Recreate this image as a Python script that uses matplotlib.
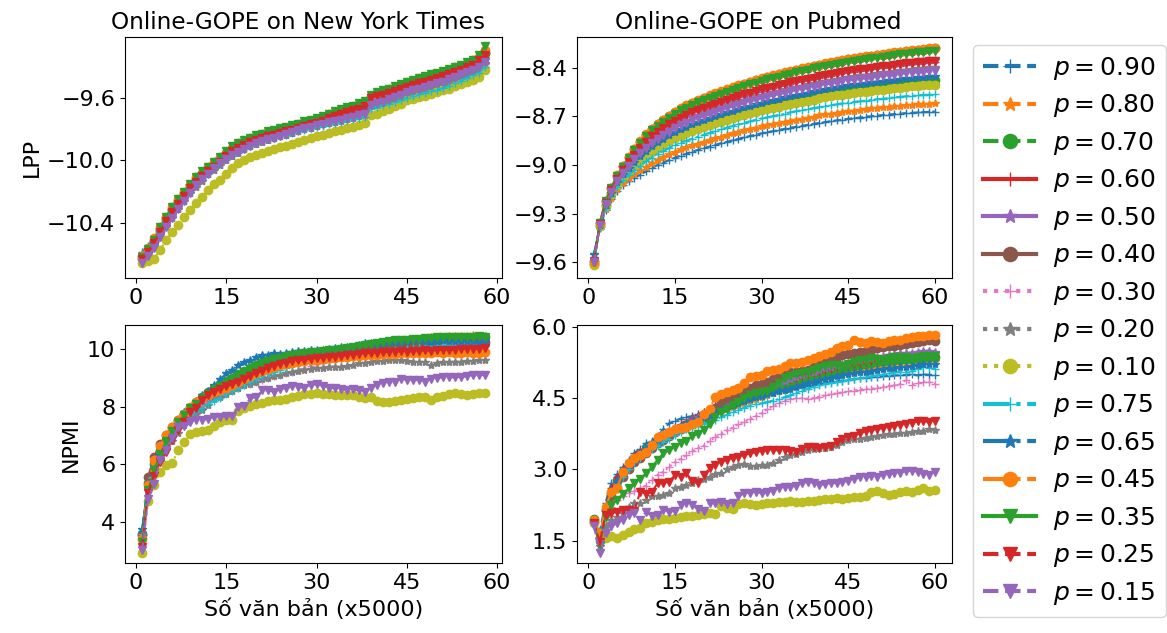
import matplotlib
matplotlib.use("Agg")
import matplotlib.pyplot as plt

# x axis: number of documents (in units of 5000)
x_nyt = list(range(1, 59))
x_pub = list(range(1, 61))

p_values = ["0.90", "0.80", "0.70", "0.60", "0.50", "0.40", "0.30", "0.20",
            "0.10", "0.75", "0.65", "0.45", "0.35", "0.25", "0.15"]

# ---------------- LPP on New York Times ----------------
nyt_lpp_090 = [-10.59, -10.55, -10.50, -10.45, -10.39, -10.34, -10.29, -10.24, -10.19, -10.15,
               -10.11, -10.08, -10.045, -10.015, -9.985, -9.96, -9.94, -9.92, -9.90, -9.885,
               -9.873, -9.861, -9.85, -9.84, -9.83, -9.82, -9.81, -9.80, -9.79, -9.78,
               -9.772, -9.764, -9.756, -9.748, -9.74, -9.732, -9.724, -9.715, -9.665, -9.655,
               -9.645, -9.635, -9.62, -9.61, -9.595, -9.585, -9.575, -9.565, -9.555, -9.545,
               -9.535, -9.52, -9.505, -9.49, -9.465, -9.45, -9.435, -9.40]
nyt_lpp_080 = [-10.60, -10.56, -10.50, -10.44, -10.37, -10.31, -10.26, -10.21, -10.16, -10.12,
               -10.08, -10.05, -10.02, -9.99, -9.95, -9.92, -9.90, -9.88, -9.865, -9.85,
               -9.84, -9.825, -9.815, -9.805, -9.795, -9.785, -9.775, -9.76, -9.75, -9.74,
               -9.725, -9.71, -9.695, -9.68, -9.67, -9.66, -9.645, -9.63, -9.59, -9.575,
               -9.56, -9.55, -9.535, -9.52, -9.505, -9.495, -9.48, -9.47, -9.46, -9.45,
               -9.44, -9.425, -9.41, -9.40, -9.38, -9.365, -9.34, -9.30]
nyt_lpp_070 = [-10.62, -10.57, -10.52, -10.44, -10.37, -10.31, -10.26, -10.21, -10.16, -10.12,
               -10.08, -10.05, -10.02, -9.99, -9.955, -9.925, -9.90, -9.88, -9.865, -9.85,
               -9.84, -9.83, -9.82, -9.81, -9.80, -9.79, -9.78, -9.765, -9.755, -9.745,
               -9.73, -9.715, -9.70, -9.685, -9.675, -9.665, -9.65, -9.635, -9.595, -9.58,
               -9.565, -9.555, -9.54, -9.525, -9.51, -9.50, -9.49, -9.48, -9.47, -9.46,
               -9.45, -9.435, -9.42, -9.41, -9.39, -9.375, -9.35, -9.31]
nyt_lpp_060 = [-10.62, -10.58, -10.53, -10.46, -10.40, -10.34, -10.29, -10.24, -10.19, -10.15,
               -10.11, -10.08, -10.05, -10.02, -9.98, -9.95, -9.93, -9.91, -9.895, -9.88,
               -9.865, -9.85, -9.84, -9.83, -9.82, -9.81, -9.80, -9.785, -9.775, -9.765,
               -9.75, -9.735, -9.72, -9.705, -9.695, -9.685, -9.675, -9.66, -9.61, -9.60,
               -9.59, -9.58, -9.565, -9.55, -9.535, -9.525, -9.515, -9.505, -9.495, -9.485,
               -9.47, -9.46, -9.445, -9.43, -9.41, -9.40, -9.375, -9.34]
nyt_lpp_050 = [-10.65, -10.61, -10.55, -10.49, -10.42, -10.36, -10.31, -10.26, -10.21, -10.17,
               -10.13, -10.09, -10.06, -10.03, -10.00, -9.975, -9.95, -9.93, -9.91, -9.895,
               -9.88, -9.87, -9.858, -9.846, -9.835, -9.823, -9.812, -9.80, -9.79, -9.78,
               -9.77, -9.76, -9.752, -9.744, -9.735, -9.725, -9.715, -9.705, -9.65, -9.64,
               -9.63, -9.615, -9.60, -9.585, -9.57, -9.56, -9.55, -9.535, -9.52, -9.51,
               -9.50, -9.485, -9.47, -9.455, -9.44, -9.425, -9.405, -9.375]
nyt_lpp_040 = [-10.63, -10.58, -10.52, -10.45, -10.38, -10.32, -10.27, -10.22, -10.17, -10.13,
               -10.09, -10.06, -10.03, -10.00, -9.96, -9.93, -9.91, -9.89, -9.875, -9.86,
               -9.85, -9.835, -9.825, -9.815, -9.805, -9.795, -9.785, -9.77, -9.76, -9.75,
               -9.735, -9.72, -9.705, -9.69, -9.68, -9.67, -9.655, -9.64, -9.60, -9.585,
               -9.57, -9.56, -9.545, -9.53, -9.515, -9.505, -9.495, -9.485, -9.475, -9.465,
               -9.455, -9.44, -9.425, -9.415, -9.395, -9.38, -9.355, -9.31]
nyt_lpp_030 = [-10.64, -10.60, -10.54, -10.48, -10.42, -10.36, -10.30, -10.25, -10.20, -10.16,
               -10.12, -10.08, -10.05, -10.02, -9.99, -9.96, -9.94, -9.92, -9.90, -9.885,
               -9.873, -9.861, -9.85, -9.838, -9.826, -9.815, -9.803, -9.792, -9.782, -9.772,
               -9.762, -9.753, -9.745, -9.736, -9.727, -9.717, -9.707, -9.697, -9.645, -9.635,
               -9.625, -9.612, -9.597, -9.583, -9.568, -9.555, -9.545, -9.535, -9.52, -9.51,
               -9.50, -9.487, -9.472, -9.458, -9.443, -9.43, -9.41, -9.38]
nyt_lpp_020 = [-10.65, -10.60, -10.55, -10.49, -10.43, -10.37, -10.31, -10.26, -10.21, -10.17,
               -10.13, -10.09, -10.06, -10.03, -10.00, -9.97, -9.95, -9.93, -9.91, -9.895,
               -9.882, -9.87, -9.858, -9.846, -9.835, -9.823, -9.811, -9.80, -9.79, -9.78,
               -9.77, -9.762, -9.753, -9.745, -9.736, -9.727, -9.718, -9.708, -9.655, -9.645,
               -9.635, -9.62, -9.605, -9.59, -9.575, -9.565, -9.555, -9.545, -9.53, -9.52,
               -9.51, -9.495, -9.48, -9.465, -9.45, -9.435, -9.415, -9.385]
nyt_lpp_010 = [-10.66, -10.645, -10.63, -10.575, -10.51, -10.46, -10.415, -10.365, -10.32, -10.275,
               -10.235, -10.19, -10.15, -10.125, -10.09, -10.05, -10.02, -10.00, -9.98, -9.965,
               -9.952, -9.94, -9.928, -9.916, -9.905, -9.893, -9.88, -9.868, -9.857, -9.845,
               -9.835, -9.825, -9.815, -9.805, -9.795, -9.785, -9.775, -9.762, -9.709, -9.70,
               -9.685, -9.67, -9.655, -9.64, -9.615, -9.605, -9.595, -9.585, -9.575, -9.56,
               -9.55, -9.54, -9.525, -9.51, -9.495, -9.485, -9.465, -9.42]
nyt_lpp_075 = [-10.60, -10.56, -10.51, -10.45, -10.40, -10.34, -10.29, -10.24, -10.20, -10.16,
               -10.12, -10.08, -10.05, -10.02, -9.99, -9.965, -9.945, -9.925, -9.905, -9.89,
               -9.878, -9.866, -9.855, -9.845, -9.835, -9.825, -9.815, -9.805, -9.795, -9.785,
               -9.777, -9.769, -9.76, -9.752, -9.744, -9.736, -9.728, -9.72, -9.668, -9.658,
               -9.648, -9.638, -9.624, -9.612, -9.598, -9.588, -9.578, -9.568, -9.557, -9.547,
               -9.537, -9.522, -9.507, -9.492, -9.47, -9.455, -9.44, -9.40]
nyt_lpp_065 = [-10.61, -10.57, -10.52, -10.45, -10.38, -10.32, -10.27, -10.22, -10.17, -10.13,
               -10.09, -10.06, -10.03, -10.00, -9.965, -9.935, -9.91, -9.89, -9.875, -9.86,
               -9.85, -9.84, -9.83, -9.82, -9.81, -9.80, -9.79, -9.775, -9.765, -9.755,
               -9.74, -9.725, -9.71, -9.695, -9.685, -9.675, -9.665, -9.65, -9.615, -9.60,
               -9.59, -9.58, -9.565, -9.55, -9.54, -9.53, -9.52, -9.51, -9.50, -9.49,
               -9.48, -9.465, -9.45, -9.435, -9.42, -9.41, -9.385, -9.35]
nyt_lpp_045 = [-10.61, -10.56, -10.50, -10.43, -10.36, -10.30, -10.25, -10.20, -10.16, -10.11,
               -10.08, -10.04, -10.01, -9.98, -9.95, -9.92, -9.89, -9.875, -9.86, -9.845,
               -9.83, -9.82, -9.81, -9.80, -9.79, -9.78, -9.77, -9.755, -9.745, -9.735,
               -9.72, -9.705, -9.69, -9.675, -9.665, -9.655, -9.64, -9.625, -9.585, -9.57,
               -9.555, -9.545, -9.53, -9.515, -9.50, -9.49, -9.475, -9.465, -9.455, -9.445,
               -9.435, -9.42, -9.405, -9.395, -9.375, -9.36, -9.335, -9.29]
nyt_lpp_035 = [-10.62, -10.57, -10.51, -10.43, -10.36, -10.30, -10.25, -10.20, -10.15, -10.11,
               -10.07, -10.04, -10.01, -9.98, -9.94, -9.91, -9.89, -9.87, -9.855, -9.84,
               -9.83, -9.815, -9.805, -9.795, -9.785, -9.775, -9.765, -9.75, -9.74, -9.73,
               -9.715, -9.70, -9.685, -9.67, -9.66, -9.65, -9.635, -9.62, -9.58, -9.565,
               -9.55, -9.54, -9.525, -9.51, -9.495, -9.485, -9.47, -9.46, -9.45, -9.44,
               -9.43, -9.415, -9.40, -9.39, -9.37, -9.355, -9.325, -9.27]
nyt_lpp_025 = [-10.63, -10.59, -10.53, -10.46, -10.39, -10.33, -10.28, -10.23, -10.18, -10.14,
               -10.10, -10.07, -10.04, -10.01, -9.97, -9.94, -9.92, -9.90, -9.885, -9.87,
               -9.86, -9.845, -9.835, -9.825, -9.815, -9.805, -9.795, -9.78, -9.77, -9.76,
               -9.745, -9.73, -9.715, -9.70, -9.69, -9.68, -9.67, -9.655, -9.60, -9.59,
               -9.58, -9.57, -9.555, -9.54, -9.527, -9.515, -9.505, -9.495, -9.485, -9.475,
               -9.46, -9.45, -9.435, -9.42, -9.40, -9.39, -9.36, -9.325]
nyt_lpp_015 = [-10.66, -10.61, -10.56, -10.49, -10.43, -10.37, -10.31, -10.26, -10.21, -10.16,
               -10.12, -10.09, -10.05, -10.02, -9.99, -9.965, -9.945, -9.925, -9.905, -9.89,
               -9.878, -9.866, -9.854, -9.842, -9.83, -9.818, -9.806, -9.796, -9.786, -9.775,
               -9.766, -9.757, -9.748, -9.74, -9.73, -9.72, -9.71, -9.70, -9.645, -9.635,
               -9.625, -9.61, -9.595, -9.58, -9.565, -9.55, -9.54, -9.53, -9.515, -9.505,
               -9.495, -9.48, -9.465, -9.45, -9.435, -9.42, -9.40, -9.37]

# ---------------- LPP on Pubmed ----------------
pub_lpp_090 = [-9.55, -9.39, -9.28, -9.21, -9.16, -9.125, -9.10, -9.08, -9.06, -9.04,
               -9.02, -9.00, -8.985, -8.97, -8.955, -8.942, -8.93, -8.918, -8.907, -8.896,
               -8.886, -8.876, -8.866, -8.857, -8.848, -8.839, -8.83, -8.821, -8.813, -8.805,
               -8.798, -8.791, -8.784, -8.777, -8.77, -8.764, -8.758, -8.752, -8.746, -8.74,
               -8.735, -8.73, -8.725, -8.72, -8.715, -8.711, -8.707, -8.703, -8.699, -8.695,
               -8.692, -8.689, -8.686, -8.683, -8.68, -8.678, -8.676, -8.674, -8.672, -8.67]
pub_lpp_080 = [-9.58, -9.386, -9.272, -9.201, -9.148, -9.109, -9.081, -9.057, -9.034, -9.01,
               -8.989, -8.967, -8.951, -8.935, -8.918, -8.904, -8.891, -8.879, -8.868, -8.856,
               -8.846, -8.835, -8.825, -8.815, -8.805, -8.796, -8.787, -8.778, -8.769, -8.761,
               -8.754, -8.747, -8.74, -8.733, -8.726, -8.72, -8.714, -8.708, -8.702, -8.693,
               -8.688, -8.683, -8.678, -8.673, -8.668, -8.664, -8.66, -8.656, -8.651, -8.647,
               -8.644, -8.641, -8.637, -8.634, -8.631, -8.629, -8.626, -8.624, -8.622, -8.62]
pub_lpp_070 = [-9.59, -9.375, -9.25, -9.175, -9.113, -9.065, -9.025, -8.99, -8.958, -8.925,
               -8.898, -8.873, -8.853, -8.833, -8.813, -8.796, -8.781, -8.767, -8.754, -8.741,
               -8.729, -8.717, -8.706, -8.695, -8.684, -8.674, -8.664, -8.654, -8.644, -8.635,
               -8.627, -8.619, -8.611, -8.603, -8.595, -8.588, -8.581, -8.574, -8.567, -8.56,
               -8.554, -8.548, -8.542, -8.536, -8.53, -8.526, -8.521, -8.517, -8.512, -8.508,
               -8.504, -8.50, -8.496, -8.492, -8.488, -8.485, -8.482, -8.479, -8.476, -8.474]
pub_lpp_060 = [-9.59, -9.367, -9.233, -9.156, -9.086, -9.032, -8.984, -8.94, -8.901, -8.862,
               -8.83, -8.802, -8.779, -8.757, -8.734, -8.715, -8.699, -8.683, -8.668, -8.654,
               -8.641, -8.629, -8.617, -8.605, -8.594, -8.582, -8.572, -8.561, -8.551, -8.541,
               -8.532, -8.524, -8.515, -8.507, -8.498, -8.49, -8.483, -8.476, -8.469, -8.461,
               -8.454, -8.448, -8.441, -8.435, -8.428, -8.423, -8.418, -8.414, -8.409, -8.404,
               -8.399, -8.395, -8.39, -8.386, -8.382, -8.378, -8.375, -8.371, -8.368, -8.365]
pub_lpp_050 = [-9.60, -9.366, -9.231, -9.153, -9.083, -9.027, -8.978, -8.933, -8.893, -8.853,
               -8.821, -8.793, -8.769, -8.746, -8.723, -8.704, -8.688, -8.672, -8.657, -8.643,
               -8.63, -8.617, -8.604, -8.592, -8.581, -8.569, -8.559, -8.548, -8.538, -8.528,
               -8.519, -8.511, -8.502, -8.494, -8.485, -8.477, -8.47, -8.462, -8.455, -8.447,
               -8.44, -8.433, -8.426, -8.42, -8.413, -8.408, -8.403, -8.399, -8.394, -8.389,
               -8.384, -8.38, -8.375, -8.371, -8.367, -8.363, -8.359, -8.355, -8.352, -8.35]
pub_lpp_040 = [-9.61, -9.36, -9.221, -9.141, -9.066, -9.006, -8.952, -8.902, -8.857, -8.812,
               -8.778, -8.748, -8.723, -8.698, -8.673, -8.653, -8.635, -8.618, -8.603, -8.588,
               -8.574, -8.561, -8.548, -8.535, -8.523, -8.511, -8.50, -8.489, -8.478, -8.468,
               -8.459, -8.45, -8.441, -8.432, -8.423, -8.415, -8.407, -8.399, -8.391, -8.383,
               -8.376, -8.369, -8.362, -8.355, -8.348, -8.343, -8.338, -8.333, -8.328, -8.323,
               -8.318, -8.313, -8.308, -8.303, -8.299, -8.295, -8.291, -8.287, -8.283, -8.28]
pub_lpp_030 = [-9.59, -9.365, -9.23, -9.152, -9.081, -9.025, -8.976, -8.931, -8.891, -8.85,
               -8.818, -8.79, -8.766, -8.743, -8.72, -8.70, -8.684, -8.668, -8.653, -8.639,
               -8.626, -8.613, -8.60, -8.588, -8.577, -8.565, -8.555, -8.544, -8.534, -8.524,
               -8.515, -8.506, -8.497, -8.489, -8.48, -8.472, -8.465, -8.457, -8.45, -8.442,
               -8.435, -8.428, -8.421, -8.415, -8.408, -8.403, -8.398, -8.394, -8.389, -8.384,
               -8.379, -8.374, -8.369, -8.365, -8.361, -8.357, -8.353, -8.349, -8.347, -8.345]
pub_lpp_020 = [-9.59, -9.369, -9.238, -9.161, -9.094, -9.041, -8.995, -8.954, -8.917, -8.879,
               -8.849, -8.822, -8.80, -8.778, -8.756, -8.738, -8.721, -8.706, -8.693, -8.679,
               -8.666, -8.653, -8.642, -8.63, -8.618, -8.608, -8.597, -8.587, -8.576, -8.567,
               -8.559, -8.55, -8.542, -8.533, -8.525, -8.518, -8.51, -8.503, -8.495, -8.488,
               -8.482, -8.475, -8.469, -8.462, -8.456, -8.452, -8.447, -8.442, -8.437, -8.433,
               -8.429, -8.424, -8.42, -8.415, -8.411, -8.408, -8.404, -8.401, -8.398, -8.395]
pub_lpp_010 = [-9.62, -9.377, -9.255, -9.181, -9.121, -9.075, -9.037, -9.004, -8.974, -8.943,
               -8.918, -8.893, -8.874, -8.855, -8.836, -8.819, -8.805, -8.791, -8.779, -8.766,
               -8.754, -8.742, -8.732, -8.721, -8.71, -8.70, -8.691, -8.681, -8.671, -8.662,
               -8.654, -8.647, -8.639, -8.631, -8.623, -8.616, -8.609, -8.602, -8.596, -8.589,
               -8.583, -8.577, -8.571, -8.565, -8.559, -8.555, -8.551, -8.547, -8.542, -8.538,
               -8.534, -8.53, -8.526, -8.522, -8.518, -8.515, -8.512, -8.509, -8.506, -8.505]
pub_lpp_075 = [-9.58, -9.382, -9.264, -9.191, -9.135, -9.093, -9.06, -9.031, -9.005, -8.978,
               -8.954, -8.932, -8.914, -8.896, -8.879, -8.863, -8.85, -8.837, -8.825, -8.813,
               -8.802, -8.79, -8.779, -8.769, -8.759, -8.75, -8.741, -8.731, -8.722, -8.713,
               -8.706, -8.698, -8.691, -8.683, -8.675, -8.668, -8.662, -8.656, -8.649, -8.643,
               -8.637, -8.631, -8.626, -8.62, -8.615, -8.611, -8.607, -8.603, -8.598, -8.594,
               -8.591, -8.587, -8.583, -8.579, -8.576, -8.573, -8.57, -8.568, -8.566, -8.564]
pub_lpp_065 = [-9.55, -9.373, -9.246, -9.171, -9.107, -9.058, -9.016, -8.979, -8.946, -8.911,
               -8.883, -8.858, -8.837, -8.817, -8.796, -8.778, -8.763, -8.749, -8.735, -8.722,
               -8.71, -8.698, -8.687, -8.675, -8.664, -8.654, -8.644, -8.634, -8.624, -8.615,
               -8.606, -8.598, -8.59, -8.582, -8.574, -8.567, -8.56, -8.553, -8.545, -8.538,
               -8.532, -8.526, -8.52, -8.514, -8.508, -8.503, -8.498, -8.494, -8.489, -8.485,
               -8.481, -8.477, -8.473, -8.469, -8.465, -8.462, -8.459, -8.456, -8.453, -8.45]
pub_lpp_045 = [-9.60, -9.36, -9.22, -9.14, -9.065, -9.005, -8.95, -8.90, -8.855, -8.81,
               -8.775, -8.745, -8.72, -8.695, -8.67, -8.65, -8.632, -8.615, -8.60, -8.585,
               -8.571, -8.558, -8.545, -8.532, -8.52, -8.508, -8.497, -8.486, -8.475, -8.465,
               -8.456, -8.447, -8.438, -8.429, -8.42, -8.412, -8.404, -8.396, -8.388, -8.38,
               -8.373, -8.366, -8.359, -8.352, -8.345, -8.34, -8.335, -8.33, -8.325, -8.32,
               -8.315, -8.31, -8.305, -8.30, -8.296, -8.292, -8.288, -8.284, -8.28, -8.277]
pub_lpp_035 = [-9.60, -9.361, -9.223, -9.143, -9.069, -9.011, -8.957, -8.908, -8.864, -8.821,
               -8.786, -8.757, -8.732, -8.708, -8.683, -8.663, -8.646, -8.629, -8.614, -8.599,
               -8.585, -8.572, -8.56, -8.547, -8.535, -8.523, -8.512, -8.501, -8.491, -8.481,
               -8.472, -8.463, -8.454, -8.445, -8.436, -8.428, -8.42, -8.412, -8.404, -8.397,
               -8.39, -8.383, -8.376, -8.369, -8.362, -8.357, -8.352, -8.347, -8.342, -8.337,
               -8.332, -8.327, -8.322, -8.317, -8.313, -8.309, -8.305, -8.301, -8.298, -8.295]
pub_lpp_025 = [-9.59, -9.366, -9.232, -9.154, -9.084, -9.029, -8.98, -8.936, -8.896, -8.856,
               -8.824, -8.796, -8.773, -8.75, -8.727, -8.708, -8.692, -8.676, -8.661, -8.647,
               -8.634, -8.622, -8.609, -8.597, -8.586, -8.574, -8.564, -8.553, -8.543, -8.533,
               -8.524, -8.516, -8.507, -8.499, -8.49, -8.482, -8.475, -8.467, -8.46, -8.452,
               -8.445, -8.439, -8.432, -8.426, -8.419, -8.414, -8.409, -8.405, -8.40, -8.395,
               -8.39, -8.386, -8.381, -8.377, -8.373, -8.369, -8.366, -8.362, -8.358, -8.356]
pub_lpp_015 = [-9.60, -9.371, -9.242, -9.165, -9.10, -9.048, -9.004, -8.965, -8.929, -8.893,
               -8.864, -8.837, -8.816, -8.794, -8.773, -8.755, -8.739, -8.725, -8.711, -8.697,
               -8.685, -8.672, -8.661, -8.65, -8.638, -8.628, -8.617, -8.607, -8.597, -8.587,
               -8.579, -8.571, -8.562, -8.554, -8.546, -8.539, -8.532, -8.525, -8.518, -8.51,
               -8.503, -8.497, -8.491, -8.484, -8.478, -8.474, -8.469, -8.465, -8.46, -8.455,
               -8.451, -8.447, -8.443, -8.438, -8.434, -8.431, -8.428, -8.425, -8.422, -8.42]

# ---------------- NPMI on New York Times ----------------
nyt_npmi_090 = [3.7, 5.3, 6.0, 6.45, 6.8, 7.15, 7.45, 7.7, 7.9, 8.1,
                8.3, 8.45, 8.6, 8.75, 8.9, 9.0, 9.1, 9.2, 9.3, 9.4,
                9.48, 9.55, 9.6, 9.65, 9.7, 9.75, 9.8, 9.83, 9.86, 9.88,
                9.9, 9.92, 9.95, 9.97, 10.0, 10.02, 10.05, 10.08, 10.1, 10.12,
                10.15, 10.18, 10.2, 10.22, 10.22, 10.25, 10.27, 10.25, 10.28, 10.3,
                10.3, 10.32, 10.3, 10.33, 10.32, 10.35, 10.33, 10.35]
nyt_npmi_080 = [3.5, 5.2, 5.9, 6.35, 6.7, 7.0, 7.3, 7.55, 7.75, 7.95,
                8.1, 8.3, 8.45, 8.6, 8.75, 8.85, 8.95, 9.05, 9.15, 9.25,
                9.35, 9.45, 9.52, 9.58, 9.63, 9.68, 9.73, 9.77, 9.8, 9.83,
                9.86, 9.9, 9.93, 9.96, 10.0, 10.03, 10.06, 10.1, 10.12, 10.15,
                10.18, 10.22, 10.25, 10.28, 10.3, 10.33, 10.35, 10.38, 10.4, 10.42,
                10.43, 10.45, 10.44, 10.46, 10.45, 10.47, 10.46, 10.45]
nyt_npmi_070 = [3.6, 5.35, 6.0, 6.45, 6.85, 7.2, 7.5, 7.75, 7.95, 8.15,
                8.35, 8.5, 8.65, 8.8, 8.9, 9.0, 9.12, 9.25, 9.35, 9.45,
                9.55, 9.6, 9.65, 9.68, 9.72, 9.75, 9.78, 9.8, 9.82, 9.85,
                9.87, 9.9, 9.92, 9.95, 9.97, 10.0, 10.02, 10.05, 10.08, 10.1,
                10.12, 10.15, 10.17, 10.2, 10.22, 10.24, 10.26, 10.28, 10.3, 10.32,
                10.33, 10.35, 10.34, 10.36, 10.37, 10.38, 10.38, 10.4]
nyt_npmi_060 = [3.5, 5.25, 5.95, 6.4, 6.75, 7.1, 7.4, 7.6, 7.85, 8.0,
                8.2, 8.35, 8.5, 8.62, 8.75, 8.85, 8.95, 9.05, 9.15, 9.25,
                9.33, 9.4, 9.46, 9.52, 9.57, 9.6, 9.64, 9.67, 9.7, 9.72,
                9.75, 9.77, 9.8, 9.82, 9.84, 9.86, 9.88, 9.9, 9.92, 9.93,
                9.95, 9.97, 9.98, 10.0, 10.01, 10.02, 10.03, 10.04, 10.05, 10.06,
                10.06, 10.07, 10.08, 10.08, 10.09, 10.1, 10.1, 10.1]
nyt_npmi_050 = [3.4, 5.15, 5.85, 6.3, 6.7, 7.05, 7.35, 7.6, 7.8, 7.98,
                8.15, 8.3, 8.45, 8.58, 8.7, 8.82, 8.92, 9.02, 9.12, 9.22,
                9.3, 9.38, 9.45, 9.5, 9.55, 9.6, 9.64, 9.68, 9.72, 9.75,
                9.78, 9.8, 9.83, 9.86, 9.88, 9.9, 9.93, 9.95, 9.97, 9.99,
                10.0, 10.02, 10.04, 10.05, 10.07, 10.09, 10.1, 10.12, 10.13, 10.15,
                10.15, 10.16, 10.17, 10.18, 10.18, 10.19, 10.2, 10.2]
nyt_npmi_040 = [3.55, 5.57, 6.27, 6.7, 7.0, 7.3, 7.55, 7.75, 7.95, 8.1,
                8.25, 8.4, 8.55, 8.65, 8.75, 8.85, 8.97, 9.1, 9.22, 9.32,
                9.4, 9.47, 9.53, 9.58, 9.62, 9.66, 9.7, 9.73, 9.76, 9.78,
                9.8, 9.82, 9.85, 9.87, 9.9, 9.92, 9.94, 9.96, 9.98, 10.0,
                10.02, 10.04, 10.06, 10.08, 10.1, 10.12, 10.13, 10.15, 10.16, 10.17,
                10.18, 10.19, 10.2, 10.21, 10.22, 10.22, 10.23, 10.24]
nyt_npmi_030 = [3.5, 5.3, 5.9, 6.3, 6.6, 7.0, 7.3, 7.55, 7.75, 7.9,
                8.05, 8.15, 8.3, 8.4, 8.5, 8.58, 8.65, 8.75, 8.8, 8.85,
                8.93, 9.0, 9.05, 9.1, 9.15, 9.2, 9.28, 9.35, 9.42, 9.48,
                9.52, 9.55, 9.6, 9.63, 9.65, 9.7, 9.72, 9.75, 9.8, 9.82,
                9.85, 9.87, 9.88, 9.9, 9.92, 9.95, 9.97, 10.0, 10.02, 10.05,
                10.08, 10.1, 10.1, 10.12, 10.15, 10.15, 10.16, 10.18]
nyt_npmi_020 = [3.4, 5.2, 5.7, 6.1, 6.5, 6.8, 7.1, 7.35, 7.6, 7.75,
                7.9, 8.05, 8.25, 8.35, 8.45, 8.55, 8.65, 8.75, 8.8, 8.87,
                8.95, 9.0, 9.05, 9.1, 9.15, 9.2, 9.25, 9.28, 9.3, 9.33,
                9.35, 9.38, 9.39, 9.38, 9.4, 9.45, 9.5, 9.5, 9.55, 9.58,
                9.58, 9.61, 9.6, 9.6, 9.58, 9.55, 9.56, 9.53, 9.46, 9.52,
                9.55, 9.54, 9.56, 9.55, 9.57, 9.58, 9.6, 9.6]
nyt_npmi_010 = [2.92, 4.72, 5.30, 5.72, 5.97, 6.03, 6.50, 6.76, 7.06, 7.12,
                7.17, 7.20, 7.34, 7.45, 7.52, 7.53, 7.85, 7.96, 8.03, 8.08,
                8.13, 8.18, 8.22, 8.24, 8.28, 8.32, 8.36, 8.44, 8.45, 8.46,
                8.43, 8.45, 8.40, 8.40, 8.41, 8.39, 8.32, 8.31, 8.34, 8.21,
                8.17, 8.16, 8.19, 8.24, 8.27, 8.31, 8.34, 8.33, 8.23, 8.32,
                8.36, 8.45, 8.46, 8.44, 8.42, 8.45, 8.46, 8.47]
nyt_npmi_075 = [3.6, 5.4, 6.0, 6.4, 6.75, 7.05, 7.3, 7.55, 7.75, 7.85,
                7.95, 8.1, 8.2, 8.3, 8.45, 8.55, 8.65, 8.75, 8.85, 8.95,
                9.05, 9.12, 9.2, 9.28, 9.35, 9.4, 9.45, 9.5, 9.55, 9.6,
                9.63, 9.67, 9.7, 9.72, 9.75, 9.78, 9.8, 9.82, 9.85, 9.88,
                9.9, 9.93, 9.95, 9.98, 10.0, 10.03, 10.05, 10.08, 10.1, 10.12,
                10.15, 10.18, 10.2, 10.22, 10.25, 10.25, 10.28, 10.3]
nyt_npmi_065 = [3.75, 5.35, 6.05, 6.5, 6.9, 7.25, 7.55, 7.8, 8.0, 8.2,
                8.4, 8.55, 8.75, 8.95, 9.15, 9.27, 9.45, 9.56, 9.6, 9.72,
                9.79, 9.8, 9.85, 9.83, 9.86, 9.88, 9.92, 9.94, 9.95, 9.97,
                9.98, 10.0, 10.02, 10.05, 10.05, 10.08, 10.12, 10.2, 10.2, 10.18,
                10.22, 10.25, 10.25, 10.25, 10.28, 10.3, 10.3, 10.28, 10.25, 10.27,
                10.3, 10.28, 10.27, 10.26, 10.28, 10.27, 10.25, 10.27]
nyt_npmi_045 = [3.4, 5.28, 6.16, 6.65, 7.01, 7.29, 7.54, 7.75, 8.0, 8.15,
                8.3, 8.4, 8.5, 8.58, 8.65, 8.75, 8.85, 8.95, 9.05, 9.15,
                9.25, 9.32, 9.38, 9.43, 9.47, 9.5, 9.53, 9.57, 9.6, 9.62,
                9.65, 9.68, 9.7, 9.72, 9.73, 9.75, 9.77, 9.78, 9.8, 9.8,
                9.82, 9.83, 9.83, 9.85, 9.85, 9.86, 9.85, 9.87, 9.86, 9.88,
                9.87, 9.88, 9.86, 9.87, 9.88, 9.87, 9.86, 9.88]
nyt_npmi_035 = [3.3, 5.1, 5.8, 6.35, 6.8, 7.15, 7.45, 7.7, 7.95, 8.1,
                8.3, 8.45, 8.6, 8.72, 8.82, 8.95, 9.1, 9.2, 9.3, 9.4,
                9.5, 9.58, 9.65, 9.7, 9.75, 9.78, 9.82, 9.85, 9.88, 9.9,
                9.92, 9.95, 9.97, 10.0, 10.02, 10.05, 10.1, 10.15, 10.18, 10.2,
                10.25, 10.28, 10.3, 10.3, 10.32, 10.35, 10.35, 10.38, 10.37, 10.4,
                10.4, 10.42, 10.4, 10.42, 10.43, 10.42, 10.44, 10.43]
nyt_npmi_025 = [3.15, 5.02, 5.6, 6.08, 6.43, 6.86, 7.18, 7.47, 7.82, 7.96,
                8.22, 8.4, 8.52, 8.62, 8.7, 8.78, 8.85, 8.95, 9.05, 9.15,
                9.25, 9.35, 9.42, 9.48, 9.52, 9.57, 9.6, 9.63, 9.66, 9.68,
                9.7, 9.72, 9.73, 9.75, 9.78, 9.8, 9.83, 9.85, 9.86, 9.87,
                9.88, 9.9, 9.91, 9.92, 9.9, 9.93, 9.92, 9.95, 9.94, 9.96,
                9.97, 9.96, 9.98, 9.99, 10.0, 9.99, 10.01, 10.02]
nyt_npmi_015 = [3.03, 4.8, 5.32, 6.16, 6.49, 6.9, 7.3, 7.32, 7.47, 7.55,
                7.53, 7.58, 7.65, 7.65, 7.67, 7.67, 8.0, 8.02, 8.29, 8.33,
                8.56, 8.56, 8.52, 8.6, 8.64, 8.7, 8.69, 8.64, 8.75, 8.78,
                8.72, 8.66, 8.63, 8.6, 8.58, 8.6, 8.57, 8.52, 8.64, 8.74,
                8.81, 8.87, 8.87, 8.95, 8.94, 8.94, 8.92, 8.87, 8.95, 8.98,
                9.02, 9.01, 9.02, 9.03, 9.05, 9.1, 9.09, 9.1]

# ---------------- NPMI on Pubmed ----------------
pub_npmi_090 = [1.95, 1.7, 2.3, 2.71, 2.9, 3.05, 3.2, 3.35, 3.43, 3.55,
                3.6, 3.7, 3.85, 3.97, 4.02, 4.07, 4.1, 4.12, 4.17, 4.2,
                4.25, 4.28, 4.32, 4.36, 4.4, 4.43, 4.47, 4.5, 4.53, 4.56,
                4.59, 4.62, 4.64, 4.67, 4.7, 4.72, 4.74, 4.76, 4.78, 4.8,
                4.82, 4.84, 4.86, 4.87, 4.89, 4.9, 4.92, 4.93, 4.94, 4.95,
                4.96, 4.97, 4.98, 4.98, 4.99, 5.0, 4.98, 5.0, 4.99, 4.99]
pub_npmi_080 = [1.92, 1.5, 2.15, 2.5, 2.72, 2.92, 3.08, 3.2, 3.3, 3.4,
                3.48, 3.56, 3.63, 3.7, 3.78, 3.85, 3.9, 3.96, 4.02, 4.08,
                4.13, 4.18, 4.23, 4.28, 4.32, 4.36, 4.4, 4.44, 4.48, 4.52,
                4.56, 4.6, 4.64, 4.68, 4.72, 4.76, 4.8, 4.84, 4.87, 4.9,
                4.93, 4.96, 4.99, 5.02, 5.05, 5.08, 5.1, 5.12, 5.14, 5.16,
                5.18, 5.2, 5.22, 5.23, 5.24, 5.25, 5.26, 5.27, 5.28, 5.28]
pub_npmi_070 = [1.95, 1.55, 2.15, 2.5, 2.75, 2.95, 3.1, 3.22, 3.32, 3.42,
                3.5, 3.58, 3.65, 3.72, 3.8, 3.87, 3.93, 3.99, 4.05, 4.1,
                4.16, 4.22, 4.28, 4.33, 4.38, 4.43, 4.48, 4.52, 4.56, 4.6,
                4.64, 4.68, 4.72, 4.76, 4.8, 4.84, 4.88, 4.92, 4.96, 5.0,
                5.03, 5.06, 5.09, 5.12, 5.15, 5.18, 5.2, 5.22, 5.24, 5.26,
                5.28, 5.29, 5.3, 5.31, 5.32, 5.33, 5.34, 5.35, 5.36, 5.36]
pub_npmi_060 = [1.9, 1.5, 2.2, 2.6, 2.85, 3.0, 3.15, 3.3, 3.38, 3.46,
                3.55, 3.65, 3.72, 3.8, 3.88, 3.95, 4.02, 4.08, 4.14, 4.2,
                4.27, 4.35, 4.42, 4.48, 4.52, 4.56, 4.62, 4.68, 4.72, 4.75,
                4.78, 4.81, 4.84, 4.87, 4.9, 4.93, 4.96, 5.0, 5.03, 5.06,
                5.09, 5.12, 5.15, 5.18, 5.2, 5.22, 5.24, 5.26, 5.28, 5.3,
                5.32, 5.34, 5.36, 5.37, 5.38, 5.39, 5.4, 5.41, 5.42, 5.41]
pub_npmi_050 = [1.9, 1.5, 2.1, 2.45, 2.7, 2.9, 3.05, 3.2, 3.3, 3.4,
                3.5, 3.58, 3.66, 3.74, 3.82, 3.9, 3.97, 4.04, 4.1, 4.16,
                4.22, 4.28, 4.34, 4.4, 4.46, 4.5, 4.55, 4.6, 4.65, 4.7,
                4.74, 4.78, 4.82, 4.86, 4.9, 4.94, 4.98, 5.02, 5.06, 5.1,
                5.13, 5.16, 5.19, 5.22, 5.25, 5.28, 5.3, 5.32, 5.34, 5.36,
                5.38, 5.4, 5.42, 5.44, 5.45, 5.46, 5.48, 5.49, 5.5, 5.48]
pub_npmi_040 = [1.9, 1.55, 2.15, 2.45, 2.6, 2.85, 3.0, 3.15, 3.25, 3.35,
                3.45, 3.55, 3.62, 3.7, 3.78, 3.85, 3.9, 3.95, 4.0, 4.08,
                4.15, 4.3, 4.42, 4.5, 4.55, 4.6, 4.64, 4.72, 4.78, 4.8,
                4.85, 4.9, 4.96, 5.0, 5.04, 5.06, 5.08, 5.1, 5.2, 5.27,
                5.3, 5.32, 5.36, 5.4, 5.43, 5.45, 5.48, 5.5, 5.52, 5.55,
                5.57, 5.59, 5.6, 5.62, 5.64, 5.66, 5.68, 5.7, 5.73, 5.71]
pub_npmi_030 = [1.95, 1.6, 2.0, 2.2, 2.35, 2.45, 2.5, 2.55, 2.6, 2.66,
                2.78, 2.88, 2.95, 3.05, 3.15, 3.22, 3.3, 3.38, 3.45, 3.5,
                3.6, 3.68, 3.75, 3.82, 3.88, 3.96, 4.0, 4.06, 4.12, 4.18,
                4.27, 4.33, 4.4, 4.45, 4.48, 4.5, 4.5, 4.49, 4.5, 4.53,
                4.56, 4.58, 4.6, 4.62, 4.64, 4.66, 4.68, 4.7, 4.7, 4.72,
                4.74, 4.76, 4.78, 4.8, 4.88, 4.78, 4.82, 4.85, 4.84, 4.8]
pub_npmi_020 = [1.9, 1.38, 1.8, 1.94, 2.0, 2.09, 2.2, 2.29, 2.3, 2.36,
                2.43, 2.44, 2.46, 2.5, 2.6, 2.64, 2.68, 2.72, 2.78, 2.8,
                2.85, 2.9, 2.93, 3.0, 3.06, 3.1, 3.12, 3.07, 3.07, 3.09,
                3.1, 3.14, 3.2, 3.26, 3.3, 3.33, 3.36, 3.4, 3.42, 3.44,
                3.45, 3.47, 3.52, 3.58, 3.62, 3.63, 3.65, 3.67, 3.69, 3.7,
                3.72, 3.74, 3.75, 3.76, 3.77, 3.78, 3.8, 3.81, 3.84, 3.82]
pub_npmi_010 = [1.87, 1.50, 1.55, 1.60, 1.55, 1.62, 1.69, 1.74, 1.76, 1.88,
                1.90, 1.94, 1.95, 1.95, 1.97, 1.99, 2.02, 2.01, 2.04, 2.06,
                2.08, 2.06, 2.22, 2.18, 2.16, 2.27, 2.29, 2.27, 2.25, 2.27,
                2.29, 2.30, 2.32, 2.32, 2.34, 2.32, 2.32, 2.33, 2.34, 2.36,
                2.37, 2.37, 2.39, 2.37, 2.39, 2.41, 2.42, 2.44, 2.53, 2.55,
                2.50, 2.46, 2.48, 2.53, 2.55, 2.53, 2.57, 2.60, 2.55, 2.57]
pub_npmi_075 = [1.9, 1.55, 2.2, 2.5, 2.7, 2.85, 3.0, 3.15, 3.25, 3.35,
                3.42, 3.5, 3.58, 3.65, 3.72, 3.78, 3.84, 3.88, 3.92, 3.96,
                4.0, 4.05, 4.1, 4.15, 4.2, 4.25, 4.3, 4.34, 4.37, 4.39,
                4.42, 4.45, 4.48, 4.52, 4.56, 4.6, 4.65, 4.7, 4.74, 4.78,
                4.8, 4.82, 4.84, 4.86, 4.88, 4.9, 4.92, 4.94, 4.96, 4.98,
                5.0, 5.02, 5.04, 5.05, 5.06, 5.08, 5.12, 5.15, 5.13, 5.11]
pub_npmi_065 = [1.95, 1.45, 2.15, 2.5, 2.75, 2.95, 3.1, 3.25, 3.35, 3.45,
                3.55, 3.62, 3.7, 3.78, 3.85, 3.92, 3.97, 4.02, 4.06, 4.1,
                4.15, 4.2, 4.25, 4.3, 4.35, 4.4, 4.44, 4.48, 4.52, 4.55,
                4.58, 4.61, 4.64, 4.67, 4.7, 4.74, 4.78, 4.82, 4.85, 4.88,
                4.9, 4.93, 4.96, 4.98, 5.0, 5.02, 5.04, 5.06, 5.08, 5.1,
                5.12, 5.13, 5.14, 5.15, 5.16, 5.18, 5.2, 5.21, 5.22, 5.22]
pub_npmi_045 = [1.94, 1.66, 2.2, 2.53, 2.6, 2.95, 3.13, 3.23, 3.3, 3.37,
                3.51, 3.69, 3.72, 3.79, 3.86, 3.88, 3.9, 3.96, 4.0, 4.17,
                4.28, 4.53, 4.59, 4.62, 4.67, 4.71, 4.81, 4.95, 4.97, 4.99,
                5.08, 5.1, 5.11, 5.17, 5.24, 5.25, 5.27, 5.31, 5.34, 5.38,
                5.43, 5.48, 5.55, 5.59, 5.62, 5.73, 5.69, 5.67, 5.71, 5.69,
                5.66, 5.7, 5.72, 5.73, 5.76, 5.78, 5.8, 5.81, 5.82, 5.83]
pub_npmi_035 = [1.85, 1.4, 2.0, 2.25, 2.36, 2.48, 2.6, 2.71, 2.8, 2.92,
                3.05, 3.2, 3.34, 3.4, 3.48, 3.55, 3.6, 3.7, 3.75, 3.83,
                3.95, 4.11, 4.2, 4.28, 4.35, 4.42, 4.5, 4.56, 4.6, 4.63,
                4.66, 4.74, 4.82, 4.92, 4.97, 5.0, 5.03, 5.06, 5.1, 5.14,
                5.17, 5.2, 5.19, 5.17, 5.22, 5.27, 5.3, 5.31, 5.34, 5.32,
                5.31, 5.34, 5.36, 5.37, 5.36, 5.35, 5.37, 5.38, 5.38, 5.39]
pub_npmi_025 = [1.87, 1.48, 2.04, 2.08, 2.11, 2.15, 2.15, 2.13, 2.53, 2.49,
                2.52, 2.71, 2.72, 2.74, 2.88, 2.85, 2.92, 2.75, 2.72, 2.88,
                3.02, 3.1, 3.16, 3.2, 3.23, 3.27, 3.3, 3.34, 3.36, 3.39,
                3.41, 3.41, 3.4, 3.41, 3.38, 3.37, 3.42, 3.48, 3.47, 3.46,
                3.48, 3.5, 3.58, 3.65, 3.68, 3.7, 3.76, 3.8, 3.83, 3.85,
                3.87, 3.9, 3.92, 3.94, 3.96, 3.97, 4.01, 4.02, 4.0, 4.01]
pub_npmi_015 = [1.80, 1.24, 1.66, 1.80, 1.87, 1.94, 2.04, 2.08, 1.94, 2.11,
                2.01, 2.04, 2.15, 2.11, 2.13, 2.25, 2.29, 2.25, 2.16, 2.13,
                2.30, 2.30, 2.32, 2.27, 2.30, 2.43, 2.50, 2.51, 2.53, 2.50,
                2.53, 2.55, 2.60, 2.64, 2.64, 2.65, 2.71, 2.74, 2.72, 2.67,
                2.69, 2.72, 2.71, 2.74, 2.76, 2.79, 2.83, 2.85, 2.86, 2.85,
                2.88, 2.90, 2.93, 2.93, 2.97, 2.97, 2.95, 2.90, 2.89, 2.95]

nyt_lpp = [nyt_lpp_090, nyt_lpp_080, nyt_lpp_070, nyt_lpp_060, nyt_lpp_050,
           nyt_lpp_040, nyt_lpp_030, nyt_lpp_020, nyt_lpp_010, nyt_lpp_075,
           nyt_lpp_065, nyt_lpp_045, nyt_lpp_035, nyt_lpp_025, nyt_lpp_015]
pub_lpp = [pub_lpp_090, pub_lpp_080, pub_lpp_070, pub_lpp_060, pub_lpp_050,
           pub_lpp_040, pub_lpp_030, pub_lpp_020, pub_lpp_010, pub_lpp_075,
           pub_lpp_065, pub_lpp_045, pub_lpp_035, pub_lpp_025, pub_lpp_015]
nyt_npmi = [nyt_npmi_090, nyt_npmi_080, nyt_npmi_070, nyt_npmi_060, nyt_npmi_050,
            nyt_npmi_040, nyt_npmi_030, nyt_npmi_020, nyt_npmi_010, nyt_npmi_075,
            nyt_npmi_065, nyt_npmi_045, nyt_npmi_035, nyt_npmi_025, nyt_npmi_015]
pub_npmi = [pub_npmi_090, pub_npmi_080, pub_npmi_070, pub_npmi_060, pub_npmi_050,
            pub_npmi_040, pub_npmi_030, pub_npmi_020, pub_npmi_010, pub_npmi_075,
            pub_npmi_065, pub_npmi_045, pub_npmi_035, pub_npmi_025, pub_npmi_015]

colors = ["C0", "C1", "C2", "C3", "C4", "C5", "C6", "C7", "C8", "C9",
          "C0", "C1", "C2", "C3", "C4"]
markers = ["+", "*", "o", "+", "*", "o", "+", "*", "o", "+", "*", "o", "v", "v", "v"]
styles = ["--", "--", "--", "-", "-", "-", ":", ":", ":", "-.", "-.", "-.", "-", "--", "--"]

plt.rcParams["font.size"] = 16

fig = plt.figure(figsize=(11.67, 6.33), dpi=100)
ax1 = fig.add_axes([0.1071, 0.5608, 0.3231, 0.3807])
ax2 = fig.add_axes([0.4944, 0.5608, 0.3213, 0.3807])
ax3 = fig.add_axes([0.1071, 0.1106, 0.3231, 0.3760])
ax4 = fig.add_axes([0.4944, 0.1106, 0.3213, 0.3760])


def draw(ax, xs, series):
    for i in range(len(series)):
        ax.plot(xs, series[i], color=colors[i], marker=markers[i],
                linestyle=styles[i], markersize=6, linewidth=1.5,
                label="$p = " + p_values[i] + "$")
    ax.set_xticks([0, 15, 30, 45, 60])


draw(ax1, x_nyt, nyt_lpp)
draw(ax2, x_pub, pub_lpp)
draw(ax3, x_nyt, nyt_npmi)
draw(ax4, x_pub, pub_npmi)

ax1.set_yticks([-10.4, -10.0, -9.6])
ax1.set_ylim(-10.754, -9.21)
ax2.set_yticks([-9.6, -9.3, -9.0, -8.7, -8.4])
ax2.set_ylim(-9.698, -8.21)
ax3.set_yticks([4, 6, 8, 10])
ax3.set_ylim(2.58, 10.83)
ax4.set_yticks([1.5, 3.0, 4.5, 6.0])
ax4.set_ylim(1.03, 6.04)

ax1.set_title("Online-GOPE on New York Times", fontsize=16.7, x=0.458)
ax2.set_title("Online-GOPE on Pubmed", fontsize=16.7, x=0.483)
ax1.set_ylabel("LPP")
ax3.set_ylabel("NPMI")
ax3.set_xlabel("Số văn bản (x5000)")
ax4.set_xlabel("Số văn bản (x5000)")

handles, labels = ax1.get_legend_handles_labels()
leg = fig.legend(handles, labels, loc="upper left", bbox_to_anchor=(0.834, 0.929),
                 borderaxespad=0, markerscale=1.7, handlelength=2.1,
                 handletextpad=0.7, labelspacing=0.42, fontsize=18)
for line in leg.get_lines():
    line.set_linewidth(3)

fig.savefig("out.png", dpi=100)
